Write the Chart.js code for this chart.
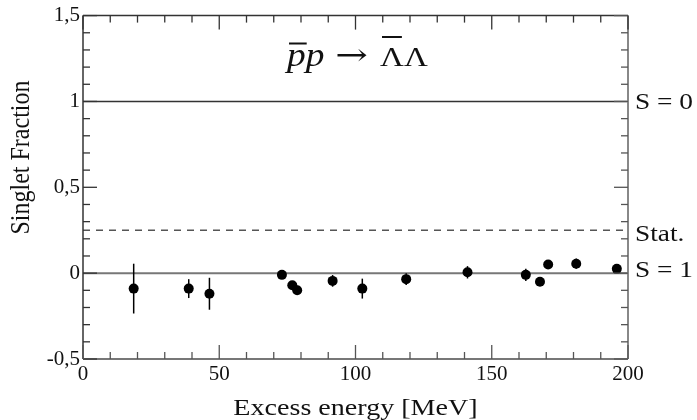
<!DOCTYPE html>
<html><head><meta charset="utf-8">
<script src="https://cdn.jsdelivr.net/npm/chart.js@4.4.0/dist/chart.umd.min.js"></script>
<style>html,body{margin:0;padding:0;background:#fff}canvas{display:block}</style>
</head><body>
<canvas id="c" width="697" height="420"></canvas>
<script>
// ---- data ----
const energy = [18.6, 38.8, 46.4, 73.0, 76.8, 78.6, 91.6, 102.5, 118.6, 141.1, 162.5, 167.7, 170.7, 181.0, 195.9];
const singletFraction = [-0.09, -0.09, -0.12, -0.01, -0.07, -0.10, -0.045, -0.09, -0.035, 0.005, -0.01, -0.05, 0.05, 0.055, 0.025];
const fractionError = [0.145, 0.055, 0.093, 0.01, 0.02, 0.026, 0.034, 0.058, 0.034, 0.036, 0.036, 0.015, 0.02, 0.03, 0.02];
const refLevels = [1, 0.25, 0];
const refLabels = ['S = 0', 'Stat.', 'S = 1'];
const xTicks = [0, 50, 100, 150, 200];
const yTicks = [-0.5, 0, 0.5, 1, 1.5];
const xTitle = 'Excess energy [MeV]';
const yTitle = 'Singlet Fraction';

const FONT = '"Liberation Serif", "Times New Roman", Times, serif';
const INK = '#111';
const refStyles = [
  {color: '#333', width: 1.5, dash: []},
  {color: '#555', width: 1.5, dash: [7, 6]},
  {color: '#777', width: 2, dash: []}
];
const refLabelOffsets = [8, 11, 3.5];

function sText(ctx, txt, x, y, font, sx, align) {
  ctx.save();
  ctx.font = font;
  ctx.translate(x, y);
  ctx.scale(sx, 1);
  ctx.textAlign = align || 'left';
  ctx.textBaseline = 'alphabetic';
  ctx.fillStyle = INK;
  ctx.fillText(txt, 0, 0);
  const w = ctx.measureText(txt).width * sx;
  ctx.restore();
  return w;
}

const decor = {
  id: 'decor',
  afterDatasetsDraw(chart) {
    const ctx = chart.ctx, xs = chart.scales.x, ys = chart.scales.y;
    ctx.save();
    ctx.strokeStyle = '#000';
    ctx.lineWidth = 1.5;
    energy.forEach((e, i) => {
      const px = xs.getPixelForValue(e);
      const y1 = ys.getPixelForValue(singletFraction[i] + fractionError[i]);
      const y2 = ys.getPixelForValue(singletFraction[i] - fractionError[i]);
      ctx.beginPath(); ctx.moveTo(px, y1); ctx.lineTo(px, y2); ctx.stroke();
    });
    ctx.restore();
  },
  afterDraw(chart) {
    const ctx = chart.ctx, xs = chart.scales.x, ys = chart.scales.y;
    const L = xs.getPixelForValue(0), R = xs.getPixelForValue(200);
    const T = ys.getPixelForValue(1.5), B = ys.getPixelForValue(-0.5);
    ctx.save();
    const seg = (x1, y1, x2, y2, c, w) => {
      ctx.strokeStyle = c; ctx.lineWidth = w;
      ctx.beginPath(); ctx.moveTo(x1, y1); ctx.lineTo(x2, y2); ctx.stroke();
    };
    seg(L, T, R, T, '#333', 1.5);
    seg(L, T, L, B, '#333', 1.5);
    seg(L, B, R, B, '#777', 2);
    seg(R, T, R, B, '#888', 2);
    for (let i = -5; i <= 15; i++) {
      const py = ys.getPixelForValue(i / 10);
      const len = (i % 5 === 0) ? 14 : 7;
      seg(L, py, L + len, py, '#333', 1.3);
      seg(R, py, R - len, py, '#555', 1.3);
    }
    for (let v = 0; v <= 200; v += 10) {
      const px = xs.getPixelForValue(v);
      const len = (v % 50 === 0) ? 14 : 7;
      seg(px, B, px, B - len, '#555', 1.3);
      seg(px, T, px, T + len, '#333', 1.3);
    }
    refLevels.forEach((lv, i) => {
      const py = ys.getPixelForValue(lv);
      sText(ctx, refLabels[i], 635, py + refLabelOffsets[i], '24px ' + FONT, 1.14, 'left');
    });
    sText(ctx, xTitle, (L + R) / 2, 415, '24px ' + FONT, 1.17, 'center');
    ctx.save();
    ctx.translate(29, 157.5);
    ctx.rotate(-Math.PI / 2);
    ctx.scale(1, 1.14);
    ctx.font = '24px ' + FONT;
    ctx.textAlign = 'center';
    ctx.textBaseline = 'alphabetic';
    ctx.fillStyle = INK;
    ctx.fillText(yTitle, 0, 0);
    ctx.restore();
    // reaction title  p̄p → Λ̄Λ
    const base = 66;
    const pw = sText(ctx, 'pp', 287, base, 'italic 34px ' + FONT, 1.1, 'left');
    sText(ctx, '\u2192', 351.5, base - 1, '30px "DejaVu Serif", serif', 1.3, 'center');
    const lw = sText(ctx, '\u039B\u039B', 380, base, '27px ' + FONT, 1.22, 'left');
    ctx.strokeStyle = INK; ctx.lineWidth = 2;
    ctx.beginPath(); ctx.moveTo(289, 43.5); ctx.lineTo(287 + pw / 2 + 1, 43.5); ctx.stroke();
    ctx.beginPath(); ctx.moveTo(382, 37); ctx.lineTo(380 + lw / 2 - 2, 37); ctx.stroke();
    ctx.restore();
  }
};

const refDatasets = refLevels.map((lv, i) => ({
  type: 'line',
  data: [{x: 0, y: lv}, {x: 200, y: lv}],
  borderColor: refStyles[i].color,
  borderWidth: refStyles[i].width,
  borderDash: refStyles[i].dash,
  pointRadius: 0,
  fill: false,
  order: 2
}));

new Chart(document.getElementById('c'), {
  type: 'scatter',
  data: {
    datasets: [
      {
        data: energy.map((e, i) => ({x: e, y: singletFraction[i]})),
        backgroundColor: '#000',
        borderColor: '#000',
        borderWidth: 0,
        pointRadius: 5,
        clip: false,
        order: 0
      },
      ...refDatasets
    ]
  },
  options: {
    responsive: false,
    animation: false,
    layout: {padding: {top: 14.5, right: 69, left: 0, bottom: 0}},
    plugins: {legend: {display: false}, tooltip: {enabled: false}},
    scales: {
      x: {
        type: 'linear', min: 0, max: 200,
        grid: {display: false, drawTicks: false},
        border: {display: false},
        afterBuildTicks: s => { s.ticks = xTicks.map(v => ({value: v})); },
        afterFit: s => { s.height = 61; },
        ticks: {color: INK, font: {family: FONT, size: 21}, padding: 3, maxRotation: 0, autoSkip: false,
                callback: v => String(v)}
      },
      y: {
        type: 'linear', min: -0.5, max: 1.5,
        grid: {display: false, drawTicks: false},
        border: {display: false},
        afterBuildTicks: s => { s.ticks = yTicks.map(v => ({value: v})); },
        afterFit: s => { s.width = 83; },
        ticks: {color: INK, font: {family: FONT, size: 21}, padding: 3, autoSkip: false,
                callback: v => String(v).replace('.', ',')}
      }
    }
  },
  plugins: [decor]
});
</script>
</body></html>
